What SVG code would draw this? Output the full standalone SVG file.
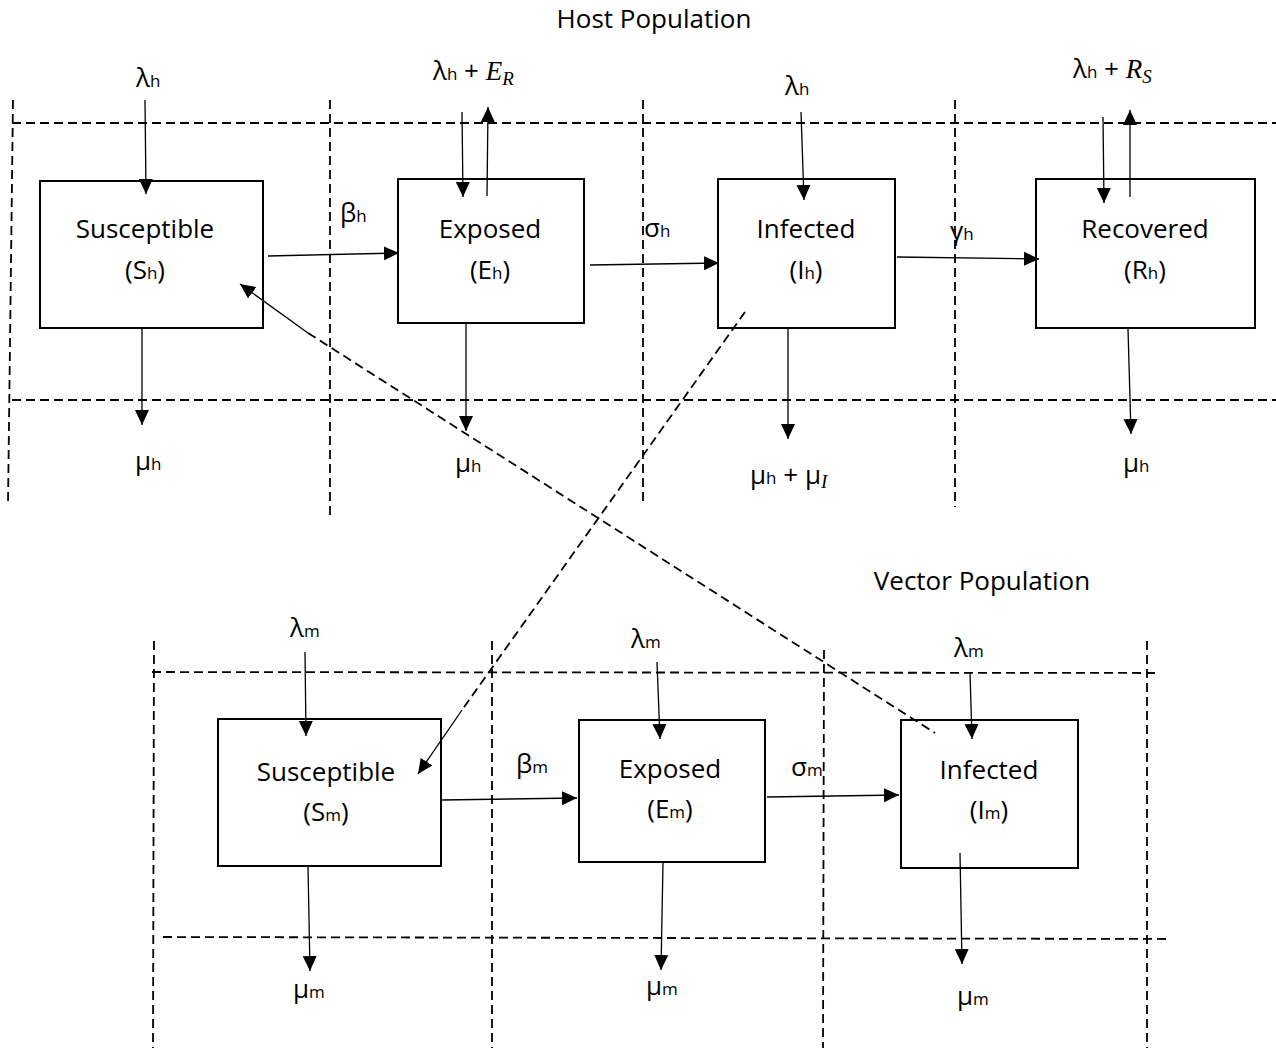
<svg xmlns="http://www.w3.org/2000/svg" width="1276" height="1048" viewBox="0 0 1276 1048">
<style>
  .bg{fill:#fff}
  .box{fill:#fff;stroke:#000;stroke-width:2}
  .dash{fill:none;stroke:#000;stroke-width:1.8;stroke-dasharray:9 5}
  .arr{fill:none;stroke:#000;stroke-width:1.3;marker-end:url(#ah)}
  .t{font-family:"Open Sans","Liberation Sans",sans-serif;font-size:26px;fill:#000;text-anchor:middle}
  .title{font-family:"Open Sans","Liberation Sans",sans-serif;font-size:26px;fill:#000;text-anchor:middle}
  .lab{font-family:"Open Sans","Liberation Sans",sans-serif;font-size:26px;fill:#000}
  .sub{font-size:17px}
  .mi{font-family:"Liberation Serif",serif;font-style:italic;font-size:27px}
  .mis{font-family:"Liberation Serif",serif;font-style:italic;font-size:19px}
</style>
<defs>
  <marker id="ah" markerUnits="userSpaceOnUse" markerWidth="16" markerHeight="16" viewBox="0 0 16 16" refX="15" refY="8" orient="auto">
    <path d="M0,1 L15,8 L0,15 z" fill="#000"/>
  </marker>
</defs>
<rect class="bg" x="0" y="0" width="1276" height="1048"/>

<text class="title" x="654" y="28">Host Population</text>
<text class="title" x="982" y="590">Vector Population</text>

<g id="grid">
  <line class="dash" x1="12" y1="123" x2="1276" y2="123"/>
  <line class="dash" x1="12" y1="400" x2="1276" y2="400"/>
  <line class="dash" x1="13" y1="100" x2="8" y2="505"/>
  <line class="dash" x1="330" y1="100" x2="330" y2="517"/>
  <line class="dash" x1="643" y1="100" x2="643" y2="505"/>
  <line class="dash" x1="955" y1="100" x2="955" y2="507"/>
  <line class="dash" x1="152" y1="672" x2="1158" y2="673"/>
  <line class="dash" x1="163" y1="937" x2="1170" y2="939"/>
  <line class="dash" x1="154" y1="641" x2="153" y2="1048"/>
  <line class="dash" x1="492" y1="641" x2="492" y2="1048"/>
  <line class="dash" x1="824" y1="650" x2="823" y2="1048"/>
  <line class="dash" x1="1147" y1="641" x2="1147" y2="1048"/>
</g>

<g id="host-susceptible">
  <rect class="box" x="40" y="181" width="223" height="147"/>
  <text class="t" x="145" y="238">Susceptible</text>
  <text class="t" x="145" y="279">(S<tspan class="sub">h</tspan>)</text>
</g>
<g id="host-exposed">
  <rect class="box" x="398" y="179" width="186" height="144"/>
  <text class="t" x="490" y="238">Exposed</text>
  <text class="t" x="490" y="279">(E<tspan class="sub">h</tspan>)</text>
</g>
<g id="host-infected">
  <rect class="box" x="718" y="179" width="177" height="149"/>
  <text class="t" x="806" y="238">Infected</text>
  <text class="t" x="806" y="279">(I<tspan class="sub">h</tspan>)</text>
</g>
<g id="host-recovered">
  <rect class="box" x="1036" y="179" width="219" height="149"/>
  <text class="t" x="1145" y="238">Recovered</text>
  <text class="t" x="1145" y="279">(R<tspan class="sub">h</tspan>)</text>
</g>

<g id="vector-susceptible">
  <rect class="box" x="218" y="719" width="223" height="147"/>
  <text class="t" x="326" y="781">Susceptible</text>
  <text class="t" x="326" y="821">(S<tspan class="sub">m</tspan>)</text>
</g>
<g id="vector-exposed">
  <rect class="box" x="579" y="720" width="186" height="142"/>
  <text class="t" x="670" y="778">Exposed</text>
  <text class="t" x="670" y="818">(E<tspan class="sub">m</tspan>)</text>
</g>
<g id="vector-infected">
  <rect class="box" x="901" y="720" width="177" height="148"/>
  <text class="t" x="989" y="779">Infected</text>
  <text class="t" x="989" y="819">(I<tspan class="sub">m</tspan>)</text>
</g>

<g id="connectors">
  <!-- host inflows -->
  <line class="arr" x1="145" y1="100" x2="146" y2="194"/>
  <line class="arr" x1="462" y1="112" x2="463" y2="197"/>
  <line class="arr" x1="487" y1="196" x2="488" y2="107"/>
  <line class="arr" x1="801" y1="112" x2="804" y2="200"/>
  <line class="arr" x1="1103" y1="117" x2="1104" y2="203"/>
  <line class="arr" x1="1130" y1="197" x2="1130" y2="110"/>
  <!-- host transitions -->
  <line class="arr" x1="268" y1="256" x2="399" y2="253"/>
  <line class="arr" x1="590" y1="265" x2="719" y2="263"/>
  <line class="arr" x1="897" y1="257" x2="1039" y2="259"/>
  <!-- host outflows -->
  <line class="arr" x1="142" y1="329" x2="142" y2="425"/>
  <line class="arr" x1="466" y1="324" x2="466" y2="431"/>
  <line class="arr" x1="788" y1="329" x2="788" y2="439"/>
  <line class="arr" x1="1128" y1="329" x2="1131" y2="434"/>
  <!-- cross infection -->
  <line class="arr" x1="308" y1="333" x2="240" y2="284"/>
  <line class="dash" x1="308" y1="333" x2="935" y2="733"/>
  <line class="dash" x1="745" y1="312" x2="462" y2="710"/>
  <line class="arr" x1="462" y1="710" x2="418" y2="774"/>
  <!-- vector inflows -->
  <line class="arr" x1="305" y1="652" x2="306" y2="736"/>
  <line class="arr" x1="657" y1="662" x2="660" y2="739"/>
  <line class="arr" x1="970" y1="672" x2="972" y2="739"/>
  <!-- vector transitions -->
  <line class="arr" x1="442" y1="800" x2="577" y2="798"/>
  <line class="arr" x1="767" y1="797" x2="899" y2="795"/>
  <!-- vector outflows -->
  <line class="arr" x1="308" y1="867" x2="310" y2="971"/>
  <line class="arr" x1="663" y1="863" x2="661" y2="970"/>
  <line class="arr" x1="960" y1="853" x2="962" y2="964"/>
</g>

<g id="labels">
  <text class="lab" x="136" y="87">λ<tspan class="sub">h</tspan></text>
  <text class="lab" x="433" y="80">λ<tspan class="sub">h</tspan> + <tspan class="mi">E</tspan><tspan class="mis" dy="5">R</tspan></text>
  <text class="lab" x="785" y="95">λ<tspan class="sub">h</tspan></text>
  <text class="lab" x="1073" y="78">λ<tspan class="sub">h</tspan> + <tspan class="mi">R</tspan><tspan class="mis" dy="5">S</tspan></text>
  <text class="lab" x="340" y="222">β<tspan class="sub">h</tspan></text>
  <text class="lab" x="644" y="237">σ<tspan class="sub">h</tspan></text>
  <text class="lab" x="950" y="240">γ<tspan class="sub">h</tspan></text>
  <text class="lab" x="135" y="470">μ<tspan class="sub">h</tspan></text>
  <text class="lab" x="455" y="472">μ<tspan class="sub">h</tspan></text>
  <text class="lab" x="750" y="484">μ<tspan class="sub">h</tspan> + μ<tspan class="mis" dy="4">I</tspan></text>
  <text class="lab" x="1123" y="472">μ<tspan class="sub">h</tspan></text>
  <text class="lab" x="290" y="637">λ<tspan class="sub">m</tspan></text>
  <text class="lab" x="631" y="648">λ<tspan class="sub">m</tspan></text>
  <text class="lab" x="954" y="657">λ<tspan class="sub">m</tspan></text>
  <text class="lab" x="516" y="773">β<tspan class="sub">m</tspan></text>
  <text class="lab" x="791" y="776">σ<tspan class="sub">m</tspan></text>
  <text class="lab" x="293" y="998">μ<tspan class="sub">m</tspan></text>
  <text class="lab" x="646" y="995">μ<tspan class="sub">m</tspan></text>
  <text class="lab" x="957" y="1005">μ<tspan class="sub">m</tspan></text>
</g>
</svg>
